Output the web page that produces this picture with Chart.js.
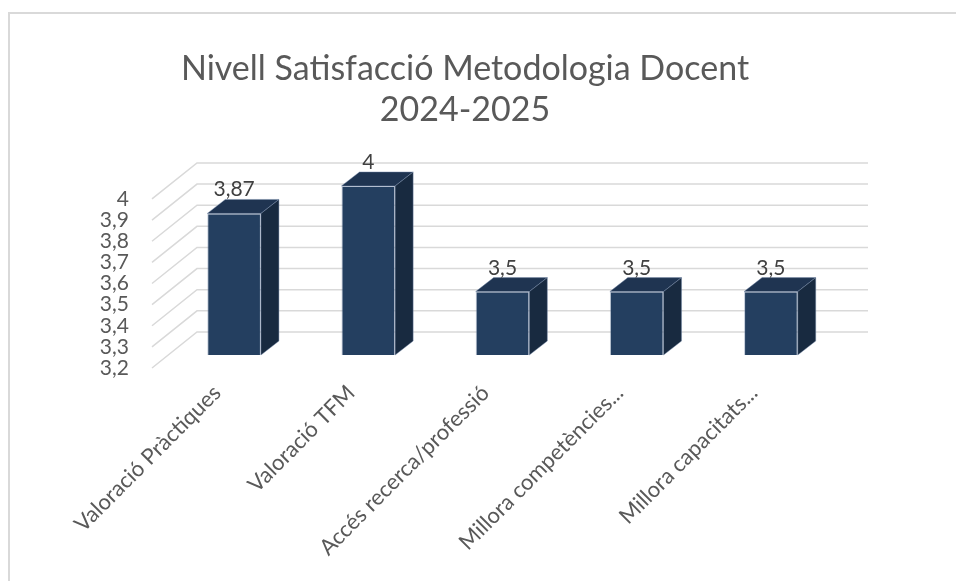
<!DOCTYPE html>
<html>
<head>
<meta charset="utf-8">
<title>Nivell Satisfacció Metodologia Docent 2024-2025</title>
<script src="https://cdn.jsdelivr.net/npm/chart.js"></script>
<style>
  html, body { margin: 0; padding: 0; background: #fff; }
  #wrap { position: relative; width: 956px; height: 581px; }
</style>
</head>
<body>
<div id="wrap"><canvas id="chart"></canvas></div>
<script>
const titleLines = ['Nivell Satisfacció Metodologia Docent', '2024-2025'];
const categories = ['Valoració Pràctiques', 'Valoració TFM', 'Accés recerca/professió', 'Millora competències...', 'Millora capacitats...'];
const values = [3.87, 4, 3.5, 3.5, 3.5];
const yTicks = [3.2, 3.3, 3.4, 3.5, 3.6, 3.7, 3.8, 3.9, 4];

const fmt = v => String(v).replace('.', ',');

const FONT = 'Lato';
const GREY = '#595959';
// fake 3D: where the bar fronts sit, how deep a bar is, where the back wall is
const BAR_OFF = { x: 17, y: 13 };
const BAR_DEPTH = { x: 18, y: 14 };
const WALL = { x: 47, y: 36 };

function poly(ctx, pts, fill) {
    ctx.beginPath();
    ctx.moveTo(pts[0][0], pts[0][1]);
    pts.slice(1).forEach(p => ctx.lineTo(p[0], p[1]));
    ctx.closePath();
    ctx.fillStyle = fill;
    ctx.fill();
    ctx.strokeStyle = 'rgba(120,140,170,0.45)';
    ctx.lineWidth = 1;
    ctx.stroke();
}

const bars3d = {
    id: 'bars3d',
    beforeDraw(chart) {
        const { ctx } = chart;
        ctx.save();
        ctx.strokeStyle = '#d9d9d9';
        ctx.lineWidth = 2;
        ctx.beginPath();
        ctx.moveTo(9, chart.height);
        ctx.lineTo(9, 13);
        ctx.lineTo(chart.width, 13);
        ctx.stroke();
        ctx.restore();
    },
    beforeDatasetsDraw(chart) {
        const { ctx, chartArea: a, scales: { y } } = chart;
        ctx.save();
        ctx.strokeStyle = '#d9d9d9';
        ctx.lineWidth = 1.5;
        y.ticks.forEach(t => {
            const py = y.getPixelForValue(t.value);
            ctx.beginPath();
            ctx.moveTo(a.left + 2, py);
            ctx.lineTo(a.left + WALL.x, py - WALL.y);
            ctx.lineTo(a.right + WALL.x, py - WALL.y);
            ctx.stroke();
        });
        ctx.restore();
        // bars are drawn a bit inside the box
        ctx.save();
        ctx.translate(BAR_OFF.x, -BAR_OFF.y);
    },
    afterDatasetsDraw(chart) {
        const { ctx } = chart;
        const meta = chart.getDatasetMeta(0);
        meta.data.forEach(bar => {
            const l = bar.x - bar.width / 2, r = bar.x + bar.width / 2;
            const t = bar.y, b = bar.base;
            const dx = BAR_DEPTH.x, dy = BAR_DEPTH.y;
            poly(ctx, [[l, t], [l + dx, t - dy], [r + dx, t - dy], [r, t]], '#1f3451');
            poly(ctx, [[r, t], [r + dx, t - dy], [r + dx, b - dy], [r, b]], '#182a40');
        });
        ctx.restore();

        ctx.save();
        ctx.fillStyle = '#404040';
        ctx.font = '21px ' + FONT;
        ctx.textAlign = 'center';
        ctx.textBaseline = 'alphabetic';
        meta.data.forEach((bar, i) => {
            ctx.fillText(fmt(values[i]), bar.x + BAR_OFF.x, bar.y - BAR_OFF.y - 17);
        });
        ctx.restore();
    }
};

new Chart(document.getElementById('chart'), {
    type: 'bar',
    data: {
        labels: categories,
        datasets: [{
            data: values,
            base: yTicks[0],
            backgroundColor: '#243f60',
            borderColor: 'rgba(120,140,170,0.45)',
            borderWidth: 1,
            categoryPercentage: 1,
            barPercentage: 0.4,
            clip: false
        }]
    },
    options: {
        responsive: true,
        maintainAspectRatio: false,
        animation: false,
        layout: { padding: { top: 48, right: 135, left: 109, bottom: 0 } },
        plugins: {
            legend: { display: false },
            tooltip: { enabled: false },
            title: {
                display: true,
                text: titleLines,
                color: GREY,
                font: { family: FONT, size: 34, weight: 'normal', lineHeight: 1.22 },
                padding: { top: 0, bottom: 68 }
            }
        },
        scales: {
            x: {
                grid: { display: false, drawTicks: false },
                border: { display: false },
                ticks: { color: GREY, font: { family: FONT, size: 22 }, minRotation: 45, maxRotation: 45, autoSkip: false, padding: 12 },
                afterFit: s => { s.height = 213; }
            },
            y: {
                min: 3.2,
                max: 4,
                grid: { display: false, drawTicks: false },
                border: { display: false },
                afterBuildTicks: s => { s.ticks = yTicks.map(v => ({ value: v })); },
                ticks: { color: GREY, font: { family: FONT, size: 21 }, padding: 21, autoSkip: false, callback: v => fmt(v) },
                afterFit: s => {
                    s.width = 41;
                    // labels stick out past the (narrow) axis box, don't clip them
                    s._computeLabelArea = () => null;
                }
            }
        }
    },
    plugins: [bars3d]
});
</script>
</body>
</html>
